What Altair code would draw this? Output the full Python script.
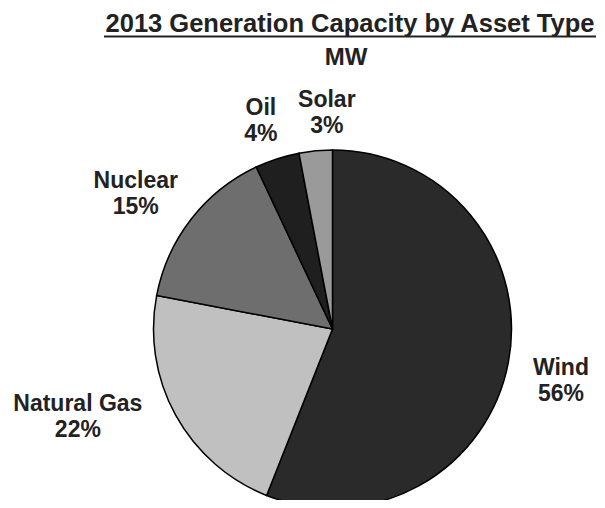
import math
import altair as alt
import pandas as pd

# ---- data ----
types = ["Wind", "Natural Gas", "Nuclear", "Oil", "Solar"]
shares = [56, 22, 15, 4, 3]
colors = ["#2a2a2a", "#c0c0c0", "#6e6e6e", "#1f1f1f", "#9a9a9a"]
title_text = "2013 Generation Capacity by Asset Type"
subtitle_text = "MW"

# ---- label layout (distance from pie centre in px, angular nudge in degrees) ----
label_dist = [234, 269, 239, 221, 217]
label_nudge = [1.7, 10.0, -3.2, -0.9, 3.9]

W, H = 589, 492
CX, CY, R = 324.5, 321, 179
FONT = "Liberation Sans"
TXT = "#222222"

total = sum(shares)
rows = []
cum = 0
for i, (t, v) in enumerate(zip(types, shares)):
    mid = (cum + v / 2) / total * 360
    cum += v
    a = math.radians(mid + label_nudge[i])
    rows.append(dict(type=t, value=v, idx=i, label=f"{t}\n{v}%",
                     lx=CX + label_dist[i] * math.sin(a),
                     ly=CY - label_dist[i] * math.cos(a)))
df = pd.DataFrame(rows)

base = alt.Chart(df)

pie = base.mark_arc(radius=R, stroke="#000000", strokeWidth=1.5).encode(
    theta=alt.Theta("value:Q", stack=True),
    order=alt.Order("idx:Q"),
    color=alt.Color("type:N", scale=alt.Scale(domain=types, range=colors), legend=None),
    x=alt.value(CX),
    y=alt.value(CY),
)

labels = base.mark_text(font=FONT, fontWeight="bold", fontSize=23, lineBreak="\n",
                        lineHeight=26, align="center", baseline="middle", dy=-12,
                        color=TXT).encode(
    x=alt.X("lx:Q", scale=None),
    y=alt.Y("ly:Q", scale=None),
    text="label:N",
)

one = alt.Data(values=[{"k": 1}])
title = alt.Chart(one).mark_text(font=FONT, fontWeight="bold", fontSize=25.5, align="center",
                                 baseline="alphabetic", color=TXT, text=title_text).encode(
    x=alt.value(342), y=alt.value(24))
underline = alt.Chart(one).mark_rule(color=TXT, strokeWidth=2).encode(
    x=alt.value(96), x2=alt.value(588), y=alt.value(28.5))
subtitle = alt.Chart(one).mark_text(font=FONT, fontWeight="bold", fontSize=24, align="center",
                                    baseline="alphabetic", color=TXT, text=subtitle_text).encode(
    x=alt.value(338), y=alt.value(57))

chart = alt.layer(pie, labels, title, underline, subtitle).properties(
    width=W, height=H, autosize=alt.AutoSizeParams(type="none"), padding=0,
    background="white",
).configure_view(stroke=None)

chart.save("out.html", embed_options={"renderer": "svg", "actions": False})
